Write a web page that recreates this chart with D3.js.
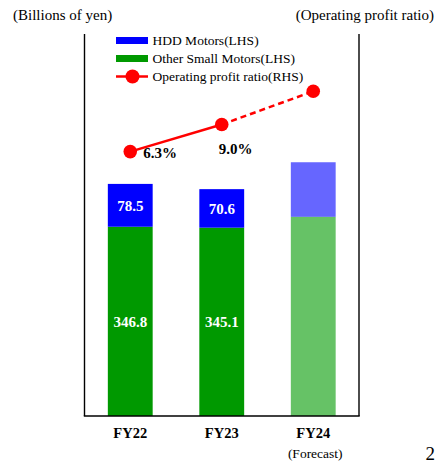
<!DOCTYPE html>
<html>
<head>
<meta charset="utf-8">
<script src="https://cdn.jsdelivr.net/npm/d3@7/dist/d3.min.js"></script>
<style>
  html, body { margin: 0; padding: 0; background: #fff; }
  svg { display: block; font-family: "Liberation Serif", "Times New Roman", serif; }
</style>
</head>
<body>
<svg id="chart" width="442" height="464"></svg>
<script>
// Fiscal years and their sub-labels
const years = ["FY22", "FY23", "FY24"];
const yearNotes = ["", "", "(Forecast)"];
const forecast = [false, false, true];

// Net sales by segment, billions of yen (LHS)
const otherSmallMotors = [346.8, 345.1, 365];
const hddMotors = [78.5, 70.6, 100];

// Operating profit ratio, % (RHS)
const profitRatio = [6.3, 9.0, 12.3];
const ratioLabels = ["6.3%", "9.0%", ""];

const svg = d3.select("#chart");
const plotLeft = 84.5, plotRight = 359, plotTop = 34, plotBottom = 416;

const x = d3.scaleBand().domain(years).range([plotLeft, plotRight]).paddingInner(0.51).paddingOuter(0.255);
const yL = d3.scaleLinear().domain([0, 700]).range([plotBottom, plotTop]);
const yR = d3.scaleLinear().domain([-20, 18]).range([plotBottom, plotTop]);

const colors = { hdd: "#0000ff", other: "#009900", line: "#ff0000" };

// Stacked bars
const stackRows = years.map((yr, i) => ({ yr, other: otherSmallMotors[i], hdd: hddMotors[i], fc: forecast[i] }));
const series = d3.stack().keys(["other", "hdd"])(stackRows);

svg.append("g").selectAll("g").data(series).join("g")
  .attr("fill", d => colors[d.key])
  .selectAll("rect").data(d => d.map(s => ({ s, key: d.key }))).join("rect")
  .attr("x", d => x(d.s.data.yr))
  .attr("width", x.bandwidth())
  .attr("y", d => yL(d.s[1]))
  .attr("height", d => yL(d.s[0]) - yL(d.s[1]))
  .attr("fill-opacity", d => d.s.data.fc ? 0.6 : 1);

// Segment values inside actual-year bars
series.forEach(ser => {
  svg.append("g").selectAll("text").data(ser.filter(s => !s.data.fc)).join("text")
    .attr("x", d => x(d.data.yr) + x.bandwidth() / 2)
    .attr("y", d => (yL(d[0]) + yL(d[1])) / 2)
    .attr("dy", "0.35em")
    .attr("text-anchor", "middle")
    .attr("fill", "#fff")
    .attr("font-weight", "bold")
    .attr("font-size", 15)
    .text(d => d.data[ser.key].toFixed(1));
});

// Axis frame: left, right and baseline
const frame = svg.append("g").attr("stroke", "#000").attr("stroke-width", 1.4);
frame.append("line").attr("x1", plotLeft).attr("x2", plotLeft).attr("y1", plotTop).attr("y2", plotBottom);
frame.append("line").attr("x1", plotRight).attr("x2", plotRight).attr("y1", plotTop).attr("y2", plotBottom);
frame.append("line").attr("x1", plotLeft - 0.7).attr("x2", plotRight + 0.7).attr("y1", plotBottom).attr("y2", plotBottom);

// Operating profit ratio line: solid for actuals, dashed toward the forecast
const pts = years.map((yr, i) => [x(yr) + x.bandwidth() / 2, yR(profitRatio[i])]);
const line = d3.line();
svg.append("path").attr("d", line(pts.slice(0, 2)))
  .attr("fill", "none").attr("stroke", colors.line).attr("stroke-width", 2.5);
svg.append("path").attr("d", line(pts.slice(1, 3)))
  .attr("fill", "none").attr("stroke", colors.line).attr("stroke-width", 2.5)
  .attr("stroke-dasharray", "6,4");
svg.append("g").selectAll("circle").data(pts).join("circle")
  .attr("cx", d => d[0]).attr("cy", d => d[1]).attr("r", 6.8)
  .attr("fill", colors.line);

// Ratio labels
const ratioOffsets = [[13, 6], [-3, 30]];
svg.append("g").selectAll("text").data(ratioLabels.filter(t => t)).join("text")
  .attr("x", (d, i) => pts[i][0] + ratioOffsets[i][0])
  .attr("y", (d, i) => pts[i][1] + ratioOffsets[i][1])
  .attr("font-weight", "bold").attr("font-size", 15).attr("fill", "#000")
  .text(d => d);

// Category labels
svg.append("g").selectAll("text").data(years).join("text")
  .attr("x", d => x(d) + x.bandwidth() / 2)
  .attr("y", 438)
  .attr("text-anchor", "middle").attr("font-weight", "bold").attr("font-size", 14.5)
  .text(d => d);
svg.append("g").selectAll("text").data(yearNotes).join("text")
  .attr("x", (d, i) => x(years[i]) + x.bandwidth() / 2 + 2)
  .attr("y", 458)
  .attr("text-anchor", "middle").attr("font-size", 13.5)
  .text(d => d);

// Axis titles
svg.append("text").attr("x", 13).attr("y", 20).attr("font-size", 15).text("(Billions of yen)");
svg.append("text").attr("x", 434).attr("y", 20).attr("text-anchor", "end").attr("font-size", 15).text("(Operating profit ratio)");

// Page number
svg.append("text").attr("x", 435).attr("y", 460).attr("text-anchor", "end").attr("font-size", 19).text("2");

// Legend
const legendItems = [
  { label: "HDD Motors(LHS)", kind: "bar", color: colors.hdd },
  { label: "Other Small Motors(LHS)", kind: "bar", color: colors.other },
  { label: "Operating profit ratio(RHS)", kind: "line", color: colors.line }
];
const lg = svg.append("g").selectAll("g").data(legendItems).join("g")
  .attr("transform", (d, i) => `translate(116, ${40.5 + i * 18})`);
lg.filter(d => d.kind === "bar").append("rect")
  .attr("x", 0).attr("y", -3.5).attr("width", 32).attr("height", 7).attr("fill", d => d.color);
lg.filter(d => d.kind === "line").append("line")
  .attr("x1", 0).attr("x2", 32).attr("y1", 0).attr("y2", 0)
  .attr("stroke", d => d.color).attr("stroke-width", 2.5);
lg.filter(d => d.kind === "line").append("circle")
  .attr("cx", 16.5).attr("cy", 0).attr("r", 7).attr("fill", d => d.color);
lg.append("text").attr("x", 36.5).attr("y", 4.8).attr("font-size", 13.5).text(d => d.label);
</script>
</body>
</html>
